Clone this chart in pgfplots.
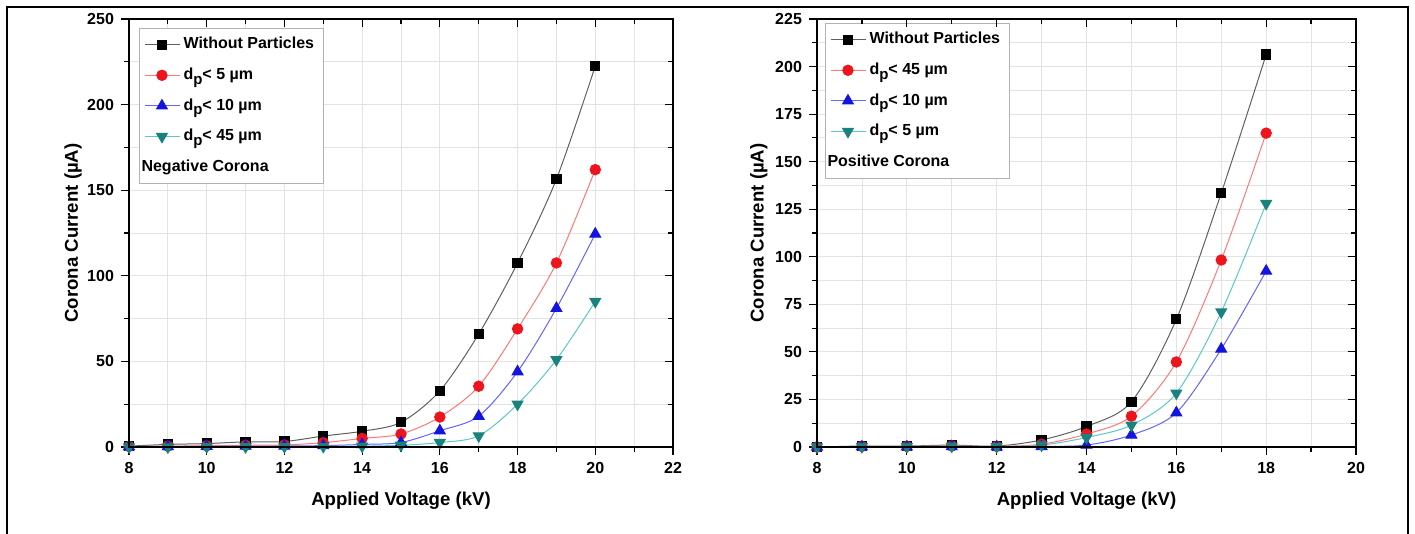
\documentclass[border=0pt]{standalone}
\usepackage{pgfplots}
\pgfplotsset{compat=1.18}
\usepackage{fontspec}
\setmainfont{Liberation Sans}
\definecolor{mred}{RGB}{238,20,30}
\definecolor{mblue}{RGB}{20,20,225}
\definecolor{mteal}{RGB}{25,130,125}
\definecolor{lblack}{RGB}{95,95,95}
\definecolor{lred}{RGB}{255,120,120}
\definecolor{lblue}{RGB}{100,100,255}
\definecolor{lteal}{RGB}{90,200,200}
\newcommand{\dsub}{d\raisebox{-0.55ex}{\fontsize{7.5}{8}\selectfont p}}

\pgfplotstableread{
x  k      r      b     t
8  0.5    0.3    0.2   0
9  1.5    0.5    0.3   0
10 2.0    0.7    0.4   0.1
11 3.0    1.0    0.5   0.1
12 3.2    1.2    0.6   0.2
13 6.4    2.5    0.8   0.3
14 9.2    5.0    1.5   0.5
15 14.4   7.6    2.6   1.0
16 32.8   17.5   9.5   2.6
17 66     35.5   18    6.5
18 107.5  69     44    25
19 156.5  107.5  81    51
20 222.5  162    124.4 85
}\negtab

\pgfplotstableread{
x  k      r      b     t
8  0      0      0     0
9  0.5    0.3    0.1   0.2
10 0.5    0.3    0.1   0.2
11 1.0    0.5    0.2   0.4
12 0.5    0.3    0.1   0.2
13 3.7    1.5    0.3   1.0
14 10.8   6.8    1.0   5.0
15 23.8   16.2   6.3   11.5
16 67.1   44.7   18.0  28.3
17 133.5  98.3   51.5  71
18 206.3  165    92.5  128
}\postab

\pgfplotsset{
  base/.style={
    scale only axis, height=214pt,
    ymin=0, xmin=8,
    minor x tick num=1, minor y tick num=1,
    axis line style={line width=0.9pt},
    every tick/.style={black, line width=0.6pt},
    major tick length=4pt, minor tick length=2.5pt,
    /pgf/number format/assume math mode=true,
    tick label style={font=\fontsize{8}{9}\selectfont\bfseries},
  },
  mainax/.style={base,
    tick align=outside, xtick pos=left, ytick pos=left,
    grid=both,
    major grid style={gray!22, line width=0.4pt},
    minor grid style={gray!22, line width=0.4pt},
    clip=false,
    xlabel={Applied Voltage (kV)},
    ylabel={Corona Current (µA)},
    every axis x label/.style={at={(axis description cs:0.5,0)}, yshift=-27pt, anchor=center, font=\fontsize{9.3}{11}\selectfont\bfseries},
    legend style={draw=gray!60, line width=0.4pt, fill=white,
      font=\fontsize{8}{9}\selectfont\bfseries,
      row sep=4pt, inner sep=2.5pt, cells={anchor=west}},
    legend cell align=left,
  },
  overax/.style={base,
    tick align=inside, xtick pos=right, ytick pos=right,
    xticklabels={}, yticklabels={},
  },
  sk/.style={lblack, line width=0.5pt, smooth, mark=square*, mark size=2.3pt, mark options={fill=black, draw=black}},
  sr/.style={lred, line width=0.5pt, smooth, mark=*, mark size=2.6pt, mark options={fill=mred, draw=mred}},
  sb/.style={lblue, line width=0.5pt, smooth, mark=triangle*, mark size=3.1pt, mark options={fill=mblue, draw=mblue}},
  st/.style={lteal, line width=0.5pt, smooth, mark=triangle*, mark size=3.1pt, mark options={fill=mteal, draw=mteal, rotate=180}},
}

\begin{document}
\begin{tikzpicture}
\path[use as bounding box] (0,0) rectangle (707.5pt,267pt);
\draw[line width=1pt] (3.5pt,0) -- (3.5pt,263.5pt) -- (704pt,263.5pt) -- (704pt,0);

% Left: negative corona
\begin{axis}[mainax, at={(64.5pt,43.5pt)}, anchor=south west, width=272pt,
  xmax=22, ymax=250, xtick={8,10,...,22}, ytick={0,50,...,250},
  every axis y label/.style={at={(axis description cs:-0.103,0.5)}, rotate=90, anchor=center, font=\fontsize{9.3}{11}\selectfont\bfseries},
  legend style={at={(axis description cs:0,1)}, anchor=north west, xshift=5pt, yshift=-4.5pt}]
\addplot[sk] table[x=x,y=k]{\negtab};
\addlegendentry{Without Particles}
\addplot[sr] table[x=x,y=r]{\negtab};
\addlegendentry{\dsub< 5 µm}
\addplot[sb] table[x=x,y=b]{\negtab};
\addlegendentry{\dsub< 10 µm}
\addplot[st] table[x=x,y=t]{\negtab};
\addlegendentry{\dsub< 45 µm}
\addlegendimage{empty legend}
\addlegendentry{\hspace*{-21pt}Negative Corona}
\end{axis}
\begin{axis}[overax, at={(64.5pt,43.5pt)}, anchor=south west, width=272pt,
  xmax=22, ymax=250, xtick={8,10,...,22}, ytick={0,50,...,250}]
\end{axis}

% Right: positive corona
\begin{axis}[mainax, at={(408.5pt,43.5pt)}, anchor=south west, width=269.5pt,
  xmax=20, ymax=225, xtick={8,10,...,20}, ytick={0,25,...,225},
  every axis y label/.style={at={(axis description cs:-0.108,0.5)}, rotate=90, anchor=center, font=\fontsize{9.3}{11}\selectfont\bfseries},
  legend style={at={(axis description cs:0,1)}, anchor=north west, xshift=4pt, yshift=-2pt}]
\addplot[sk] table[x=x,y=k]{\postab};
\addlegendentry{Without Particles}
\addplot[sr] table[x=x,y=r]{\postab};
\addlegendentry{\dsub< 45 µm}
\addplot[sb] table[x=x,y=b]{\postab};
\addlegendentry{\dsub< 10 µm}
\addplot[st] table[x=x,y=t]{\postab};
\addlegendentry{\dsub< 5 µm}
\addlegendimage{empty legend}
\addlegendentry{\hspace*{-21pt}Positive Corona}
\end{axis}
\begin{axis}[overax, at={(408.5pt,43.5pt)}, anchor=south west, width=269.5pt,
  xmax=20, ymax=225, xtick={8,10,...,20}, ytick={0,25,...,225}]
\end{axis}
\end{tikzpicture}
\end{document}
